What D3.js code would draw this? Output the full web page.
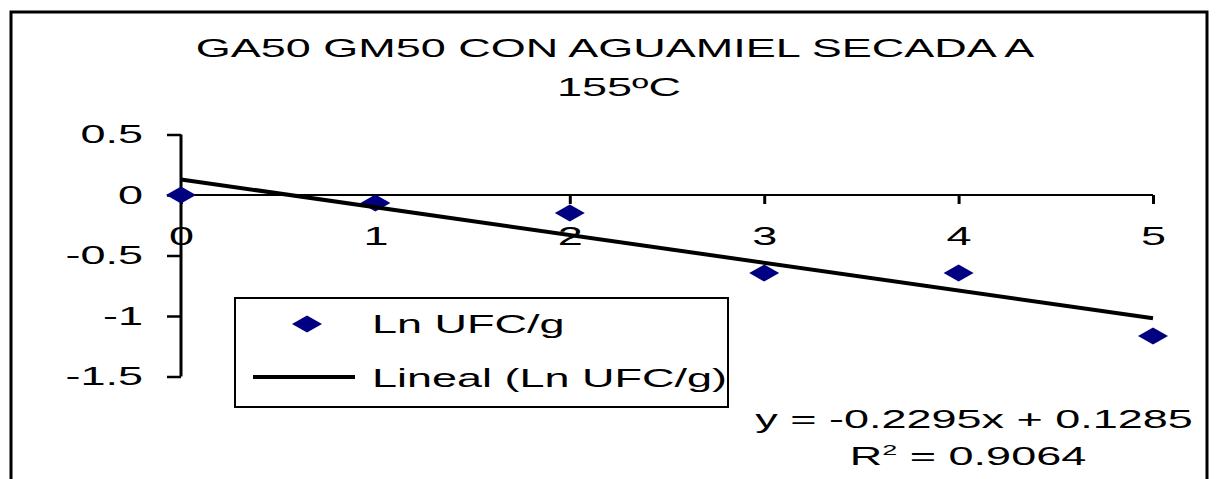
<html>
<head>
<meta charset="utf-8">
<script src='https://d3js.org/d3.v7.min.js'></script>
<style>
body { margin: 0; background: #fff; }
text { font-family: "Liberation Sans", Arial, sans-serif; fill: #000; }
</style>
</head>
<body>
<svg width=1216 height=479></svg>
<script>
// data
var xValues = [0, 1, 2, 3, 4, 5];
var lnUfc = [0, -0.066, -0.149, -0.645, -0.645, -1.165];
var yTicks = [0.5, 0, -0.5, -1, -1.5];
var xTicks = [0, 1, 2, 3, 4, 5];
var slope = -0.2295, intercept = 0.1285, r2 = 0.9064;
var titleLines = ["GA50 GM50 CON AGUAMIEL SECADA A", "155\u00baC"];
var legendLabels = ["Ln UFC/g", "Lineal (Ln UFC/g)"];

var sx = 1.8;      // the picture is stretched sideways
var fs = 25;

var svg = d3.select("svg");

var x = d3.scaleLinear().domain([0, 5]).range([181, 1153]);
var y = d3.scaleLinear().domain([-1.5, 0.5]).range([376.5, 134.5]);

// helper for stretched text
function label(g, tx, ty, str, anchor, size) {
    return g.append("text")
        .attr("transform", "translate(" + tx + "," + ty + ") scale(" + sx + ",1)")
        .attr("text-anchor", anchor)
        .style("font-size", (size || fs) + "px")
        .text(str);
}

// outer frame
svg.append("rect")
    .attr("x", 11).attr("y", 12).attr("width", 1196).attr("height", 500)
    .attr("fill", "none").attr("stroke", "#000").attr("stroke-width", 3);

// title
label(svg, 615, 57, titleLines[0], "middle", 25);
label(svg, 619, 96, titleLines[1], "middle", 25);

// y-axis
var yAxis = svg.append("g")
    .attr("transform", "translate(" + x(0) + ",0)")
    .call(d3.axisLeft(y).tickValues(yTicks).tickSize(14).tickFormat(function(d) { return String(d); }));
yAxis.select(".domain").attr("d", "M0," + y(0.5) + "V" + y(-1.5)).attr("stroke-width", 3);
yAxis.selectAll(".tick line").attr("stroke-width", 2.5);
yAxis.selectAll(".tick text")
    .attr("x", -38 / sx).attr("dy", "0.33em")
    .attr("transform", "scale(" + sx + ",1)")
    .style("font-size", fs + "px")
    .style("font-family", "Liberation Sans, Arial, sans-serif");

// x-axis at y = 0
var xAxis = svg.append("g")
    .attr("transform", "translate(0," + y(0) + ")")
    .call(d3.axisBottom(x).tickValues(xTicks).tickSize(9).tickFormat(function(d) { return String(d); }));
xAxis.select(".domain").attr("d", "M" + x(0) + ",0H" + x(5)).attr("stroke-width", 2);
xAxis.selectAll(".tick line").attr("stroke-width", 3);
xAxis.selectAll(".tick text")
    .attr("y", 50).attr("dy", 0).attr("x", 0)
    .attr("transform", "scale(" + sx + ",1)")
    .style("font-size", fs + "px")
    .style("font-family", "Liberation Sans, Arial, sans-serif");

// diamonds
var diamond = "M-15,0L0,-8.5L15,0L0,8.5Z";
svg.append("g").selectAll("path")
    .data(xValues.map(function(v, i) { return [v, lnUfc[i]]; }))
    .enter().append("path")
    .attr("d", diamond)
    .attr("transform", function(d) { return "translate(" + x(d[0]) + "," + y(d[1]) + ")"; })
    .attr("fill", "#000080");

// trend line
svg.append("line")
    .attr("x1", x(0)).attr("y1", y(intercept))
    .attr("x2", x(5)).attr("y2", y(intercept + slope * 5))
    .attr("stroke", "#000").attr("stroke-width", 4);

// legend
var leg = svg.append("g");
leg.append("rect")
    .attr("x", 235).attr("y", 298).attr("width", 493).attr("height", 109)
    .attr("fill", "#fff").attr("stroke", "#000").attr("stroke-width", 2);
leg.append("path").attr("d", diamond).attr("transform", "translate(307,324)").attr("fill", "#000080");
leg.append("line").attr("x1", 253).attr("x2", 355).attr("y1", 377).attr("y2", 377)
    .attr("stroke", "#000").attr("stroke-width", 4);
label(leg, 372, 333, legendLabels[0], "start");
label(leg, 372, 387, legendLabels[1], "start");

// equation
label(svg, 974, 428, "y = " + slope + "x + " + intercept, "middle");
var r = svg.append("text")
    .attr("transform", "translate(968,465) scale(" + sx + ",1)")
    .attr("text-anchor", "middle")
    .style("font-size", fs + "px");
r.append("tspan").text("R");
r.append("tspan").attr("dy", -10).style("font-size", "15px").text("2");
r.append("tspan").attr("dy", 10).text(" = " + r2);
</script>
</body>
</html>
